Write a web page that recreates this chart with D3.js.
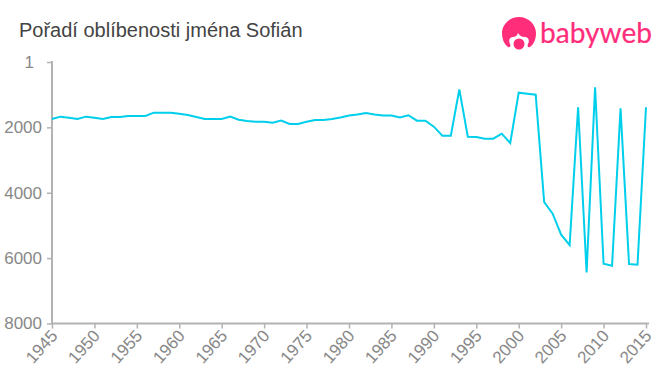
<!DOCTYPE html>
<html>
<head>
<meta charset="utf-8">
<script src="https://cdn.jsdelivr.net/npm/d3@7"></script>
<style>
  html, body { margin: 0; padding: 0; background: #fff; }
  svg { display: block; }
  text { font-family: "Liberation Sans", Arial, sans-serif; }
</style>
</head>
<body>
<svg id="chart" width="660" height="375"></svg>
<script>
const title = "Pořadí oblíbenosti jména Sofián";
const brand = "babyweb";

const years = d3.range(1945, 2016);
const ranks = [
  1744, 1673, 1703, 1744, 1673, 1703, 1744, 1683, 1683, 1652,
  1652, 1652, 1550, 1550, 1550, 1581, 1622, 1683, 1744, 1744,
  1744, 1673, 1765, 1805, 1826, 1826, 1856, 1795, 1897, 1897,
  1826, 1775, 1775, 1744, 1700, 1640, 1610, 1560, 1610, 1640,
  1640, 1700, 1630, 1795, 1795, 1979, 2254, 2254, 837, 2285,
  2295, 2346, 2346, 2193, 2479, 939, 969, 1000, 4284, 4641,
  5284, 5600, 1387, 6436, 775, 6171, 6232, 1418, 6181, 6202,
  1387
];
const xTicks = d3.range(1945, 2016, 5);
const yTicks = [1, 2000, 4000, 6000, 8000];

const svg = d3.select("#chart");

const x = d3.scaleLinear().domain([1945, 2015]).range([52, 646]);
const y = d3.scaleLinear().domain([1, 8000]).range([62, 323.5]);

//========== Axes ==========

const xAxis = svg.append("g")
  .attr("transform", "translate(0,323.5)")
  .call(d3.axisBottom(x).tickValues(xTicks).tickFormat(d3.format("d")).tickSize(5).tickSizeOuter(0));
xAxis.select(".domain").attr("d", "M51,0H649");
xAxis.selectAll("text")
  .attr("text-anchor", "end")
  .attr("x", 0)
  .attr("y", 0)
  .attr("dx", 0)
  .attr("dy", 0)
  .attr("transform", "translate(6,13) rotate(-48)");

const yAxis = svg.append("g")
  .attr("transform", "translate(52,0)")
  .call(d3.axisLeft(y).tickValues(yTicks).tickFormat(d3.format("d")).tickSize(5).tickSizeOuter(0));
yAxis.select(".domain").attr("d", "M0,61V324");
yAxis.selectAll("text")
  .attr("x", d => d === 1 ? -18 : -10);

svg.selectAll(".domain, .tick line")
  .attr("stroke", "#b3b3b3")
  .attr("stroke-width", 2)
  .attr("fill", "none");
svg.selectAll(".tick line").attr("stroke-width", 1.5);
svg.selectAll(".tick text")
  .attr("fill", "#888")
  .attr("font-size", 17)
  .style("font-family", '"Liberation Sans", Arial, sans-serif');

//========== Line ==========

const line = d3.line()
  .x((d, i) => x(years[i]))
  .y(d => y(d));

svg.append("path")
  .datum(ranks)
  .attr("fill", "none")
  .attr("stroke", "#00cfec")
  .attr("stroke-width", 2)
  .attr("d", line);

//========== Title and logo ==========

svg.append("text")
  .attr("x", 19)
  .attr("y", 37)
  .attr("font-size", 20)
  .attr("fill", "#444")
  .text(title);

const logo = svg.append("g").attr("fill", "#ff2d7a");
logo.append("path")
  .attr("d", "M519,17 C509,17 502,25 502,33 C502,39 504,44 508,47 C510,48 511,46 510,44 C508,40 510,37 513,37 C515,37 517,36 518,33 C520,36 522,37 525,37 C528,37 530,40 528,44 C527,46 528,48 530,47 C534,44 536,39 536,33 C536,25 529,17 519,17 Z");
logo.append("circle").attr("cx", 519).attr("cy", 44).attr("r", 5.5);
logo.append("text")
  .attr("x", 540)
  .attr("y", 43)
  .attr("font-size", 28)
  .attr("textLength", 112)
  .attr("lengthAdjust", "spacingAndGlyphs")
  .attr("stroke", "#ff2d7a")
  .attr("stroke-width", 0.2)
  .style("font-family", "Lato, sans-serif")
  .text(brand);
</script>
</body>
</html>
